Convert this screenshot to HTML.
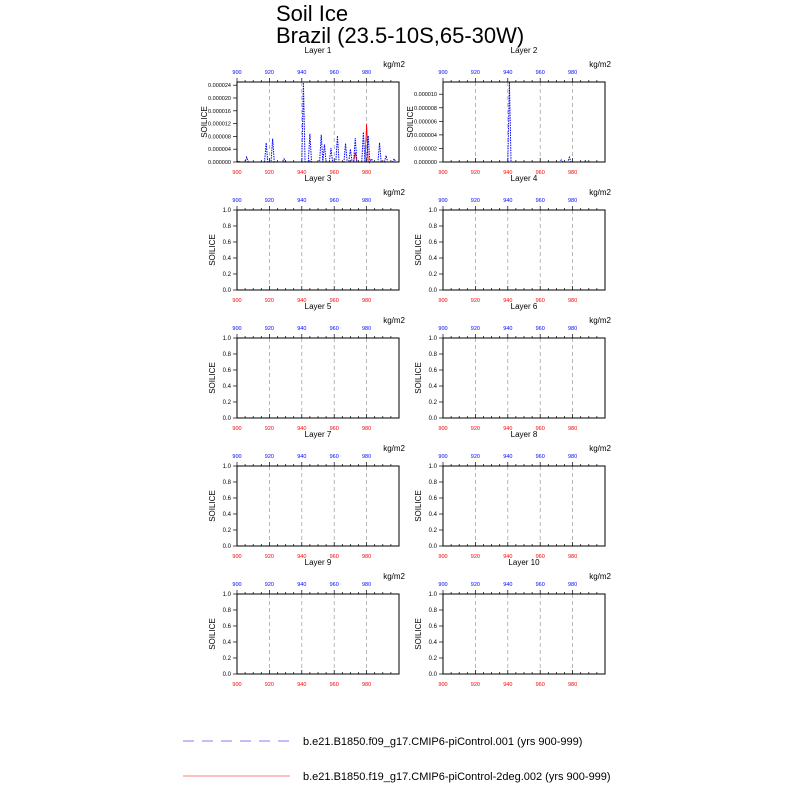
<!DOCTYPE html>
<html><head><meta charset="utf-8"><style>
body{margin:0;background:#fff;}
svg{font-family:"Liberation Sans",sans-serif;}
</style></head><body>
<svg id="chart" width="800" height="800" xmlns="http://www.w3.org/2000/svg">
<text x="276" y="21" font-size="22">Soil Ice</text>
<text x="276" y="43" font-size="22">Brazil (23.5-10S,65-30W)</text>
<line x1="183" y1="741" x2="290" y2="741" stroke="#9999ff" stroke-width="1.2" stroke-dasharray="11,8"/>
<text x="303" y="745" font-size="11">b.e21.B1850.f09_g17.CMIP6-piControl.001 (yrs 900-999)</text>
<line x1="183" y1="776" x2="290" y2="776" stroke="#ff9999" stroke-width="1.2"/>
<text x="303" y="780" font-size="11">b.e21.B1850.f19_g17.CMIP6-piControl-2deg.002 (yrs 900-999)</text>
</svg>
<script>
const years = Array.from({length:100},(_,i)=>900+i);
const xTicks = [900,920,940,960,980];
const layerNames = ["Layer 1","Layer 2","Layer 3","Layer 4","Layer 5","Layer 6","Layer 7","Layer 8","Layer 9","Layer 10"];
// blue series peaks (year -> value) layer 1
const blueL1Years = [901,906,918,922,929,941,945,952,954,958,962,967,970,973,978,981,983,988,992,997];
const blueL1Vals = [0.3e-6,1.5e-6,6e-6,7.3e-6,1e-6,24.8e-6,8.8e-6,8.5e-6,5.5e-6,4.3e-6,8.2e-6,5.8e-6,4e-6,7.5e-6,9.3e-6,8.2e-6,1e-6,6e-6,2e-6,1e-6];
const redL1Years = [973,980];
const redL1Vals = [3e-6,12e-6];
const blueL2Years = [941,973,978,988];
const blueL2Vals = [11.8e-6,0.3e-6,0.7e-6,0.2e-6];
const yTicksL1 = ["0.000000","0.000004","0.000008","0.000012","0.000016","0.000020","0.000024"];
const yTicksL2 = ["0.000000","0.000002","0.000004","0.000006","0.000008","0.000010"];
const yTicksEmpty = ["0.0","0.2","0.4","0.6","0.8","1.0"];

const NS="http://www.w3.org/2000/svg";
const svg=document.getElementById('chart');
function mk(tag,attrs,parent){const e=document.createElementNS(NS,tag);for(const k in attrs)e.setAttribute(k,attrs[k]);(parent||svg).appendChild(e);return e;}
function series(ys,vs){const a=years.map(()=>0);ys.forEach((y,i)=>{a[y-900]=vs[i];});return a;}

const colX=[237,443], rowY=[82,210,338,466,594], W=162, H=80;
for(let p=0;p<10;p++){
  const bx=colX[p%2], by=rowY[Math.floor(p/2)];
  const g=mk('g',{});
  
  
  let ymax=1, yt=yTicksEmpty, fs=6;
  if(p===0){ymax=25e-6;yt=yTicksL1;fs=5.5;}
  if(p===1){ymax=11.8e-6;yt=yTicksL2;fs=5.5;}
  const xs=v=>bx+(v-900)*1.62;
  const ysc=v=>by+H-v/ymax*H;
  // title
  const t=mk('text',{x:bx+W/2,y:by-29,'font-size':8,'text-anchor':'middle'},g);t.textContent=layerNames[p];
  
  const u=mk('text',{x:bx+W+6,y:by-15,'font-size':8,'text-anchor':'end'},g);u.textContent='kg/m2';
  
  // grid
  xTicks.forEach(v=>{
    if(v>900) {const l=mk('line',{x1:xs(v),x2:xs(v),y1:by,y2:by+H,stroke:'#999','stroke-width':0.7,'stroke-dasharray':'4,3'},g);
      }
    const tb=mk('text',{x:xs(v),y:by+H+12,'font-size':5.5,'text-anchor':'middle',fill:'#ff0000'},g);tb.textContent=v;
    
    const tt=mk('text',{x:xs(v),y:by-8,'font-size':5.5,'text-anchor':'middle',fill:'#0000ff'},g);tt.textContent=v;
    
  });
  for(let v=900;v<1000;v+=5){const L=(v%20===0)?4:2;
    mk('line',{x1:xs(v),x2:xs(v),y1:by+H,y2:by+H-L,stroke:'#000','stroke-width':0.7},g);
    mk('line',{x1:xs(v),x2:xs(v),y1:by,y2:by-L,stroke:'#000','stroke-width':0.7},g);}
  yt.forEach((s,i)=>{const v=parseFloat(s);const y=ysc(v);
    mk('line',{x1:bx,x2:bx-4,y1:y,y2:y,stroke:'#000','stroke-width':0.7},g);
    const tl=mk('text',{x:bx-6,y:y+2,'font-size':fs,'text-anchor':'end'},g);tl.textContent=s;
    });
  const yl=mk('text',{transform:`translate(${p<2?bx-30:bx-22},${by+H/2}) rotate(-90)`,'font-size':8,'text-anchor':'middle'},g);yl.textContent='SOILICE';
  
  if(p<2){
    const red=p===0?series(redL1Years,redL1Vals):years.map(()=>0);
    const blue=p===0?series(blueL1Years,blueL1Vals):series(blueL2Years,blueL2Vals);
    const pr=mk('polyline',{points:years.map((y,i)=>xs(y)+','+ysc(Math.min(red[i],ymax))).join(' '),fill:'none',stroke:'#ff0000','stroke-width':0.8},g);
    
    const pb=mk('polyline',{points:years.map((y,i)=>xs(y)+','+ysc(Math.min(blue[i],ymax))).join(' '),fill:'none',stroke:'#0000ff','stroke-width':1,'stroke-dasharray':'1.5,1'},g);
    
  }
  const r=mk('rect',{x:bx,y:by,width:W,height:H,fill:'none',stroke:'#000','stroke-width':1},g);
  
}
</script>
</body></html>
